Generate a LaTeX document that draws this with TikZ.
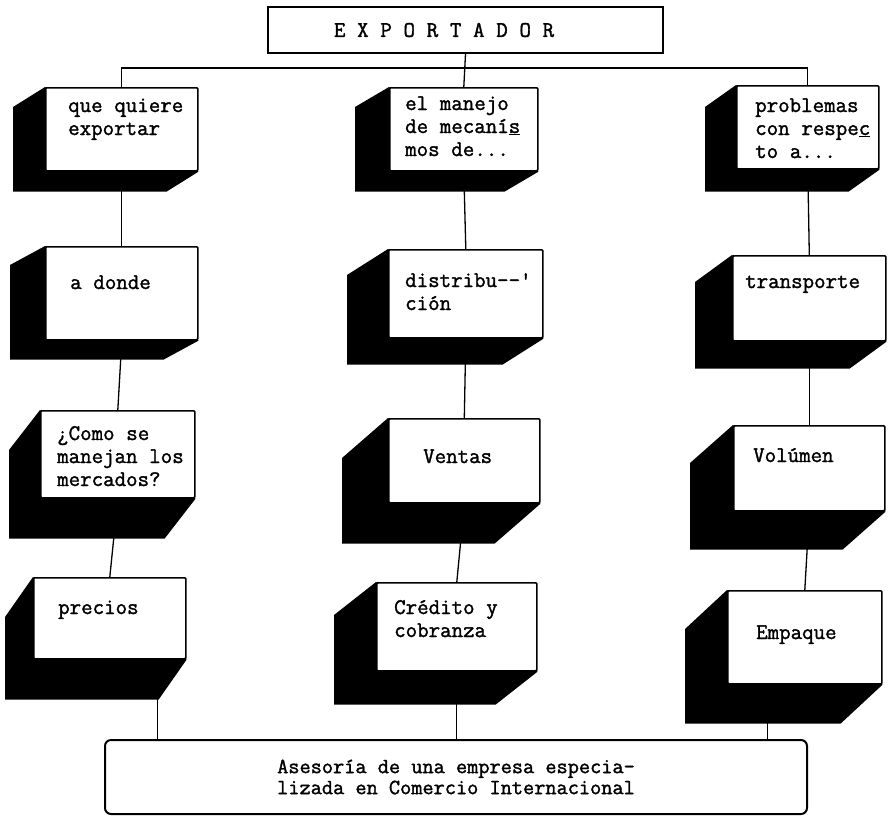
\documentclass[tikz,border=0pt]{standalone}
\usepackage{fontspec}
\setmonofont[FakeBold=1.5]{Latin Modern Mono}
\usetikzlibrary{backgrounds}

\begin{document}
\begin{tikzpicture}[x=1pt, y=-1pt,
    face/.style={draw, line width=1.6pt, fill=white, rounded corners=1pt,
      anchor=north west, inner sep=0pt},
    words/.style={anchor=base west, inner sep=0pt, text width=140pt, align=left,
      font=\ttfamily\fontsize{22.3}{23}\selectfont,
      execute at begin node={\spaceskip=11.7pt\relax}},
    link/.style={line width=1.3pt}]

  \useasboundingbox (0,0) rectangle (890,823);

  %% top and bottom
  \node[draw, line width=2pt, anchor=north west, minimum width=395pt, minimum height=46pt,
    inner xsep=66pt, text width=263pt, align=left,
    font=\ttfamily\fontsize{22.3}{23}\selectfont,
    execute at begin node={\spaceskip=11.7pt\relax}]
    (exportador) at (267,6) {E X P O R T A D O R};
  \node[draw, line width=2pt, rounded corners=6pt, minimum width=702pt, minimum height=74pt,
    align=center, font=\ttfamily\fontsize{21.7}{21}\selectfont] (asesoria) at (456,777)
    {Asesoría de una empresa especia-\\lizada en Comercio Internacional};

  %% left column
  \node[face, minimum width=152pt, minimum height=83pt] (quiere) at (45,87) {};
  \node[words] (quiere-t) at ([shift={(23,25)}]quiere.north west) {que quiere\\exportar};
  \node[face, minimum width=152pt, minimum height=93pt] (adonde) at (45,246) {};
  \node[words] (adonde-t) at ([shift={(25,43)}]adonde.north west) {a donde};
  \node[face, minimum width=154pt, minimum height=87pt] (mercados) at (40,410) {};
  \node[words] (mercados-t) at ([shift={(17,30)}]mercados.north west) {¿Como se\\manejan los\\mercados?};
  \node[face, minimum width=152pt, minimum height=81pt] (precios) at (33,577) {};
  \node[words] (precios-t) at ([shift={(25,37)}]precios.north west) {precios};

  %% middle column
  \node[face, minimum width=148pt, minimum height=83pt] (manejo) at (389,87) {};
  \node[words] (manejo-t) at ([shift={(16,23)}]manejo.north west) {el manejo\\de mecaní\underline{s}\\mos de...};
  \node[face, minimum width=154pt, minimum height=88pt] (distribucion) at (388,249) {};
  \node[words] (distribucion-t) at ([shift={(17,38)}]distribucion.north west) {distribu-{}-'\\ción};
  \node[face, minimum width=151pt, minimum height=84pt] (ventas) at (388,418) {};
  \node[words] (ventas-t) at ([shift={(35,45)}]ventas.north west) {Ventas};
  \node[face, minimum width=160pt, minimum height=88pt] (credito) at (376,582) {};
  \node[words] (credito-t) at ([shift={(18,32)}]credito.north west) {Crédito y\\cobranza};

  %% right column
  \node[face, minimum width=142pt, minimum height=83pt] (problemas) at (736,85) {};
  \node[words] (problemas-t) at ([shift={(19,27)}]problemas.north west) {problemas\\con respe\underline{c}\\to a...};
  \node[face, minimum width=153pt, minimum height=85pt] (transporte) at (732,255) {};
  \node[words] (transporte-t) at ([shift={(13,33)}]transporte.north west) {transporte};
  \node[face, minimum width=151pt, minimum height=85pt] (volumen) at (733,425) {};
  \node[words] (volumen-t) at ([shift={(20,37)}]volumen.north west) {Volúmen};
  \node[face, minimum width=154pt, minimum height=93pt] (empaque) at (727,590) {};
  \node[words] (empaque-t) at ([shift={(29,49)}]empaque.north west) {Empaque};

  %% black sides of the blocks
  \begin{scope}[on background layer]
    \foreach \b/\dx/\dy in {quiere/-32/20, adonde/-35/19, mercados/-31/40, precios/-28/40,
        manejo/-34/20, distribucion/-41/26, ventas/-46/40, credito/-42/33,
        problemas/-31/22, transporte/-37/27, volumen/-43/38, empaque/-42/39}
      \fill[black] (\b.north west) -- ++(\dx,\dy)
        -- ([shift={(\dx,\dy)}]\b.south west) -- ([shift={(\dx,\dy)}]\b.south east)
        -- (\b.south east) -- cycle;
  \end{scope}

  %% connectors
  \coordinate (bar) at (464,68);
  \draw[link] (exportador.south) -- (manejo.north);
  \draw[link] (quiere.north) |- (bar) -| (problemas.north);
  \draw[link] (quiere.south) -- (adonde.north);
  \draw[link] (adonde.south) -- (mercados.north);
  \draw[link] (mercados.south) -- (precios.north);
  \draw[link] (manejo.south) -- (distribucion.north);
  \draw[link] (distribucion.south) -- (ventas.north);
  \draw[link] (ventas.south) -- (credito.north);
  \draw[link] (problemas.south) -- (transporte.north);
  \draw[link] (transporte.south) -- (volumen.north);
  \draw[link] (volumen.south) -- (empaque.north);
  \draw[link] ([xshift=48pt]precios.south) coordinate (p1) -- (p1 |- asesoria.north);
  \draw[link] (credito.south) -- (credito.south |- asesoria.north);
  \draw[link] ([xshift=-37pt]empaque.south) coordinate (e1) -- (e1 |- asesoria.north);

\end{tikzpicture}
\end{document}
